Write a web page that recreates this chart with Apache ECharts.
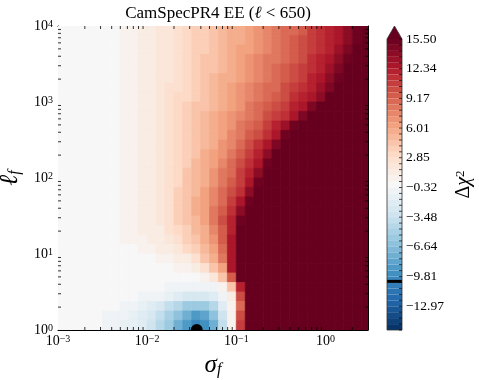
<!DOCTYPE html>
<html>
<head>
<meta charset="utf-8">
<script src="https://cdn.jsdelivr.net/npm/echarts@6/dist/echarts.min.js"></script>
<style>
html, body { margin: 0; padding: 0; background: #fff; }
#chart { width: 479px; height: 380px; }
</style>
</head>
<body>
<div id="chart"></div>
<script>
// cell edges of the grid: sigma_f left to right, ell_f top to bottom
var sigmaEdges = [0.001, 0.00126, 0.00158, 0.002, 0.00251, 0.00316, 0.00398, 0.00501, 0.00631, 0.00794,
    0.01, 0.0126, 0.0158, 0.02, 0.0251, 0.0316, 0.0398, 0.0501, 0.0631, 0.0794,
    0.1, 0.126, 0.158, 0.2, 0.251, 0.316, 0.398, 0.501, 0.631, 0.794,
    1, 1.26, 1.58, 2, 2.51, 3];
var ellEdges = [10000, 7499, 5623, 4217, 3162, 2371, 1778, 1334, 1000, 749.9, 562.3, 421.7, 316.2, 237.1, 177.8, 133.4,
    100, 74.99, 56.23, 42.17, 31.62, 23.71, 17.78, 13.34, 10, 7.499, 5.623, 4.217, 3.162, 2.371, 1.778, 1.334, 1];

// delta chi2, one row per ell band (top row first)
var dchi2 = [
    [0, 0, 0, 0, 0, 0.1, 0.3, 0.55, 0.8, 1.07, 1.33, 1.66, 2.11, 2.58, 3.05, 3.52, 3.99, 4.46, 4.94, 5.41, 5.88, 6.41, 6.96, 7.5, 8.05, 8.6, 9.14, 9.78, 10.46, 11.13, 11.8, 12.54, 13.8, 15.04, 16],
    [0, 0, 0, 0, 0, 0.1, 0.3, 0.55, 0.8, 1.07, 1.33, 1.64, 2.12, 2.59, 3.07, 3.55, 4.02, 4.5, 4.98, 5.46, 5.94, 6.48, 7.04, 7.59, 8.15, 8.71, 9.26, 9.94, 10.62, 11.31, 11.99, 12.91, 14.19, 15.47, 16],
    [0, 0, 0, 0, 0, 0.1, 0.3, 0.55, 0.8, 1.07, 1.33, 1.64, 2.13, 2.62, 3.11, 3.6, 4.09, 4.57, 5.07, 5.56, 6.05, 6.62, 7.18, 7.75, 8.31, 8.88, 9.48, 10.18, 10.88, 11.58, 12.28, 13.45, 14.75, 16, 16],
    [0, 0, 0, 0, 0, 0.1, 0.3, 0.55, 0.8, 1.07, 1.33, 1.65, 2.15, 2.65, 3.15, 3.65, 4.15, 4.65, 5.16, 5.66, 6.18, 6.76, 7.33, 7.91, 8.48, 9.06, 9.72, 10.43, 11.14, 11.85, 12.69, 14.0, 15.32, 16, 16],
    [0, 0, 0, 0, 0, 0.1, 0.3, 0.55, 0.8, 1.07, 1.33, 1.65, 2.16, 2.68, 3.19, 3.7, 4.22, 4.73, 5.25, 5.76, 6.32, 6.91, 7.5, 8.09, 8.68, 9.28, 10.01, 10.74, 11.46, 12.19, 13.37, 14.71, 16, 16, 16],
    [0, 0, 0, 0, 0, 0.1, 0.3, 0.55, 0.8, 1.07, 1.33, 1.66, 2.19, 2.72, 3.26, 3.79, 4.33, 4.86, 5.4, 5.93, 6.52, 7.12, 7.72, 8.31, 8.91, 9.56, 10.3, 11.04, 11.77, 12.6, 13.96, 15.32, 16, 16, 16],
    [0, 0, 0, 0, 0, 0.1, 0.3, 0.55, 0.8, 1.07, 1.33, 1.72, 2.27, 2.82, 3.37, 3.91, 4.46, 5.01, 5.57, 6.13, 6.73, 7.33, 7.93, 8.54, 9.14, 9.85, 10.6, 11.34, 12.08, 13.19, 14.56, 16, 16, 16, 16],
    [0, 0, 0, 0, 0, 0.1, 0.3, 0.55, 0.8, 1.07, 1.33, 1.73, 2.3, 2.88, 3.45, 4.02, 4.59, 5.17, 5.74, 6.34, 6.97, 7.6, 8.22, 8.85, 9.52, 10.3, 11.07, 11.84, 12.8, 14.22, 16, 16, 16, 16, 16],
    [0, 0, 0, 0, 0, 0.1, 0.3, 0.55, 0.8, 1.07, 1.33, 1.74, 2.34, 2.94, 3.54, 4.13, 4.73, 5.33, 5.94, 6.6, 7.27, 7.94, 8.61, 9.28, 10.11, 10.95, 11.78, 12.78, 14.31, 16, 16, 16, 16, 16, 16],
    [0, 0, 0, 0, 0, 0.1, 0.3, 0.55, 0.8, 1.07, 1.33, 1.75, 2.38, 3.0, 3.63, 4.26, 4.88, 5.51, 6.16, 6.89, 7.61, 8.34, 9.06, 9.9, 10.8, 11.7, 12.77, 14.42, 16, 16, 16, 16, 16, 16, 16],
    [0, 0, 0, 0, 0, 0.1, 0.3, 0.55, 0.8, 1.07, 1.33, 1.76, 2.41, 3.05, 3.7, 4.35, 4.99, 5.64, 6.37, 7.19, 8.0, 8.82, 9.72, 10.73, 11.74, 13.07, 14.93, 16, 16, 16, 16, 16, 16, 16, 16],
    [0, 0, 0, 0, 0, 0.1, 0.3, 0.55, 0.8, 1.07, 1.33, 1.77, 2.44, 3.11, 3.77, 4.44, 5.11, 5.78, 6.61, 7.5, 8.4, 9.3, 10.41, 11.53, 12.84, 14.9, 16, 16, 16, 16, 16, 16, 16, 16, 16],
    [0, 0, 0, 0, 0, 0.1, 0.3, 0.55, 0.8, 1.07, 1.33, 1.78, 2.47, 3.16, 3.85, 4.54, 5.23, 5.92, 6.88, 7.87, 8.85, 9.95, 11.16, 12.37, 14.59, 16, 16, 16, 16, 16, 16, 16, 16, 16, 16],
    [0, 0, 0, 0, 0, 0.1, 0.3, 0.55, 0.8, 1.07, 1.33, 1.79, 2.52, 3.25, 3.98, 4.71, 5.43, 6.23, 7.27, 8.3, 9.34, 10.61, 11.89, 13.79, 16, 16, 16, 16, 16, 16, 16, 16, 16, 16, 16],
    [0, 0, 0, 0, 0, 0.1, 0.3, 0.55, 0.8, 1.07, 1.33, 1.81, 2.56, 3.32, 4.07, 4.83, 5.58, 6.49, 7.61, 8.71, 9.93, 11.29, 12.85, 15.36, 16, 16, 16, 16, 16, 16, 16, 16, 16, 16, 16],
    [0, 0, 0, 0, 0, 0.1, 0.3, 0.55, 0.8, 1.07, 1.33, 1.82, 2.6, 3.39, 4.17, 4.96, 5.74, 6.78, 7.96, 9.12, 10.5, 11.93, 14.19, 16, 16, 16, 16, 16, 16, 16, 16, 16, 16, 16, 16],
    [0, 0, 0, 0, 0, 0.1, 0.3, 0.55, 0.8, 1.07, 1.33, 1.83, 2.65, 3.46, 4.28, 5.1, 5.92, 7.08, 8.3, 9.55, 11.04, 12.65, 15.38, 16, 16, 16, 16, 16, 16, 16, 16, 16, 16, 16, 16],
    [0, 0, 0, 0, 0, 0.1, 0.3, 0.55, 0.8, 1.07, 1.33, 1.84, 2.7, 3.55, 4.4, 5.25, 6.15, 7.4, 8.67, 10.07, 11.62, 13.81, 16, 16, 16, 16, 16, 16, 16, 16, 16, 16, 16, 16, 16],
    [0, 0, 0, 0, 0, 0.1, 0.3, 0.55, 0.8, 1.07, 1.33, 1.86, 2.75, 3.64, 4.53, 5.42, 6.46, 7.79, 9.14, 10.74, 12.38, 15.4, 16, 16, 16, 16, 16, 16, 16, 16, 16, 16, 16, 16, 16],
    [0, 0, 0, 0, 0, 0.1, 0.3, 0.55, 0.8, 1.07, 1.33, 1.86, 2.75, 3.64, 4.53, 5.42, 6.52, 8.0, 9.55, 11.39, 13.91, 16, 16, 16, 16, 16, 16, 16, 16, 16, 16, 16, 16, 16, 16],
    [0, 0, 0, 0, 0, 0.1, 0.3, 0.55, 0.8, 1.07, 1.33, 1.76, 2.65, 3.54, 4.43, 5.32, 6.4, 8.07, 9.88, 11.96, 15.41, 16, 16, 16, 16, 16, 16, 16, 16, 16, 16, 16, 16, 16, 16],
    [0, 0, 0, 0, 0, 0.1, 0.3, 0.53, 0.76, 0.99, 1.23, 1.46, 2.27, 3.18, 4.09, 5.0, 5.91, 7.74, 9.79, 12.18, 16, 16, 16, 16, 16, 16, 16, 16, 16, 16, 16, 16, 16, 16, 16],
    [0, 0, 0, 0, 0, 0.1, 0.22, 0.39, 0.62, 0.85, 1.08, 1.31, 1.66, 2.61, 3.57, 4.52, 5.47, 7.06, 9.5, 12.4, 16, 16, 16, 16, 16, 16, 16, 16, 16, 16, 16, 16, 16, 16, 16],
    [0, 0, 0, 0, 0, 0, 0, 0.11, 0.25, 0.47, 0.75, 1.04, 1.32, 1.9, 2.96, 4.01, 5.06, 6.31, 9.11, 12.61, 16, 16, 16, 16, 16, 16, 16, 16, 16, 16, 16, 16, 16, 16, 16],
    [0, 0, 0, 0, 0, 0, 0, 0, 0, 0.08, 0.22, 0.42, 0.77, 1.12, 1.47, 2.77, 4.15, 5.53, 8.39, 12.67, 16, 16, 16, 16, 16, 16, 16, 16, 16, 16, 16, 16, 16, 16, 16],
    [0, 0, 0, 0, 0, 0, 0, 0, 0, 0, 0, 0.04, 0.18, 0.34, 0.82, 1.3, 2.54, 4.36, 6.6, 12.67, 16, 16, 16, 16, 16, 16, 16, 16, 16, 16, 16, 16, 16, 16, 16],
    [0, 0, 0, 0, 0, 0, 0, 0, 0, 0, -0.1, -0.1, -0.1, -0.05, 0.12, 0.26, 0.78, 1.82, 4.71, 9.5, 16, 16, 16, 16, 16, 16, 16, 16, 16, 16, 16, 16, 16, 16, 16],
    [0, 0, 0, 0, 0, 0, -0.05, -0.1, -0.15, -0.2, -0.25, -0.3, -0.35, -0.45, -0.55, -0.6, -0.55, -0.35, 0.6, 4.5, 12, 16, 16, 16, 16, 16, 16, 16, 16, 16, 16, 16, 16, 16, 16],
    [0, 0, 0, 0, 0, -0.05, -0.1, -0.15, -0.2, -0.35, -0.55, -0.85, -1.3, -1.8, -2.3, -2.6, -2.6, -2.0, -0.8, 1.5, 10, 16, 16, 16, 16, 16, 16, 16, 16, 16, 16, 16, 16, 16, 16],
    [0, 0, 0, 0, -0.05, -0.15, -0.25, -0.4, -0.7, -1.1, -1.8, -2.6, -3.6, -4.6, -5.5, -6.0, -5.8, -4.6, -2.2, 0.8, 9, 16, 16, 16, 16, 16, 16, 16, 16, 16, 16, 16, 16, 16, 16],
    [0, 0, -0.05, -0.1, -0.2, -0.35, -0.5, -0.8, -1.2, -1.9, -2.8, -4.0, -5.3, -6.6, -7.8, -8.6, -8.3, -6.6, -3.2, 0.5, 10, 16, 16, 16, 16, 16, 16, 16, 16, 16, 16, 16, 16, 16, 16],
    [0, 0, -0.05, -0.15, -0.3, -0.45, -0.7, -1.0, -1.5, -2.2, -3.1, -4.3, -5.8, -7.5, -9.0, -10.2, -9.3, -7.5, -3.5, 0.5, 11, 16, 16, 16, 16, 16, 16, 16, 16, 16, 16, 16, 16, 16, 16]
];

// contour levels and the labelled ones on the colorbar
var levels = [-15.5, -14.87, -14.23, -13.6, -12.97, -12.34, -11.71, -11.07, -10.44, -9.81,
    -9.17, -8.54, -7.91, -7.28, -6.64, -6.01, -5.38, -4.74, -4.11, -3.48,
    -2.85, -2.21, -1.58, -0.95, -0.32, 0.32, 0.95, 1.58, 2.21, 2.85,
    3.48, 4.11, 4.74, 5.38, 6.01, 6.64, 7.28, 7.91, 8.54, 9.17,
    9.81, 10.44, 11.07, 11.71, 12.34, 12.97, 13.6, 14.23, 14.87, 15.5];
var cbarTicks = [-12.97, -9.81, -6.64, -3.48, -0.32, 2.85, 6.01, 9.17, 12.34, 15.5];

var xRange = [0.001, 3];
var yRange = [1, 10000];
var xMinor = [0.002, 0.003, 0.004, 0.005, 0.006, 0.007, 0.008, 0.009,
    0.02, 0.03, 0.04, 0.05, 0.06, 0.07, 0.08, 0.09,
    0.2, 0.3, 0.4, 0.5, 0.6, 0.7, 0.8, 0.9, 2];
var yMinor = [2, 3, 4, 5, 6, 7, 8, 9, 20, 30, 40, 50, 60, 70, 80, 90,
    200, 300, 400, 500, 600, 700, 800, 900, 2000, 3000, 4000, 5000, 6000, 7000, 8000, 9000];

var bestFit = [0.036, 1];
var minChi2 = -10.32;

var serif = 'Liberation Serif';
var rdbu = ['#053061', '#2166ac', '#4393c3', '#92c5de', '#d1e5f0', '#f7f7f7',
    '#fddbc7', '#f4a582', '#d6604d', '#b2182b', '#67001f'];
var rdbuRgb = rdbu.map(function (h) {
    return [parseInt(h.substr(1, 2), 16), parseInt(h.substr(3, 2), 16), parseInt(h.substr(5, 2), 16)];
});

function cmap(t) {
    t = Math.max(0, Math.min(1, t));
    var s = t * (rdbuRgb.length - 1);
    var i = Math.min(Math.floor(s), rdbuRgb.length - 2);
    var f = s - i;
    var a = rdbuRgb[i], b = rdbuRgb[i + 1];
    return 'rgb(' + Math.round(a[0] + (b[0] - a[0]) * f) + ',' +
        Math.round(a[1] + (b[1] - a[1]) * f) + ',' +
        Math.round(a[2] + (b[2] - a[2]) * f) + ')';
}

var vmin = levels[0], vmax = levels[levels.length - 1];
// contourf style: one flat colour per band, over colour above the top level
function levelColor(v) {
    if (v >= vmax) return rdbu[rdbu.length - 1];
    for (var i = 0; i < levels.length - 1; i++) {
        if (v < levels[i + 1]) {
            return cmap(((levels[i] + levels[i + 1]) / 2 - vmin) / (vmax - vmin));
        }
    }
}

function powLabel(v) {
    var e = Math.log10(v);
    var r = Math.round(e);
    if (Math.abs(e - r) > 1e-6) return '';
    return '{b|10}{p|' + (r < 0 ? '\u2212' + (-r) : r) + '}';
}
var powRich = {
    b: { fontFamily: serif, fontSize: 14, color: '#000' },
    p: { fontFamily: serif, fontSize: 10, color: '#000', verticalAlign: 'top' }
};

var cells = [];
dchi2.forEach(function (row, i) {
    row.forEach(function (v, j) {
        cells.push([sigmaEdges[j], sigmaEdges[j + 1], ellEdges[i], ellEdges[i + 1], v]);
    });
});

var bands = [];
for (var k = 0; k < levels.length - 1; k++) {
    bands.push([0, 1, levels[k], levels[k + 1]]);
}

var minorData = xMinor.map(function (v) { return [v, yRange[0], 0]; })
    .concat(yMinor.map(function (v) { return [xRange[0], v, 1]; }));

var tickLine = { stroke: '#000', lineWidth: 0.8 };

var chart = echarts.init(document.getElementById('chart'));

var option = {
    backgroundColor: '#fff',
    animation: false,
    title: {
        text: 'CamSpecPR4 EE ({l|\u2113} < 650)',
        left: 213,
        top: 0,
        textAlign: 'center',
        textStyle: {
            fontFamily: serif, fontSize: 17, fontWeight: 'normal', color: '#000',
            rich: { l: { fontFamily: serif, fontSize: 17, fontStyle: 'italic', color: '#000' } }
        }
    },
    grid: [
        { left: 58, top: 26, width: 310, height: 304, outerBoundsMode: 'none', containLabel: false },
        { left: 387, top: 39, width: 15, height: 291, outerBoundsMode: 'none', containLabel: false }
    ],
    xAxis: [
        {
            gridIndex: 0, type: 'log', logBase: 10, min: xRange[0], max: xRange[1], position: 'bottom',
            name: '{i|\u03c3}{s|f}', nameLocation: 'middle', nameGap: 17,
            nameTextStyle: {
                rich: {
                    i: { fontFamily: serif, fontStyle: 'italic', fontSize: 25, color: '#000' },
                    s: { fontFamily: serif, fontStyle: 'italic', fontSize: 16, color: '#000', verticalAlign: 'bottom' }
                }
            },
            axisLine: { lineStyle: { color: '#000', width: 1 } },
            axisTick: { inside: true, length: 5, lineStyle: { color: '#000', width: 0.8 } },
            axisLabel: { formatter: powLabel, rich: powRich, margin: 4 },
            splitLine: { show: false }
        },
        {
            gridIndex: 0, type: 'log', logBase: 10, min: xRange[0], max: xRange[1], position: 'top',
            axisLine: { lineStyle: { color: '#000', width: 1 } },
            axisTick: { inside: true, length: 5, lineStyle: { color: '#000', width: 0.8 } },
            axisLabel: { show: false },
            splitLine: { show: false }
        },
        { gridIndex: 1, type: 'value', min: 0, max: 1, show: false }
    ],
    yAxis: [
        {
            gridIndex: 0, type: 'log', logBase: 10, min: yRange[0], max: yRange[1], position: 'left',
            name: '{i|\u2113}{s|f}', nameLocation: 'middle', nameGap: 27, nameRotate: 90,
            nameTextStyle: {
                rich: {
                    i: { fontFamily: serif, fontStyle: 'italic', fontSize: 26, color: '#000' },
                    s: { fontFamily: serif, fontStyle: 'italic', fontSize: 16, color: '#000', verticalAlign: 'bottom' }
                }
            },
            axisLine: { lineStyle: { color: '#000', width: 1 } },
            axisTick: { inside: true, length: 5, lineStyle: { color: '#000', width: 0.8 } },
            axisLabel: { formatter: powLabel, rich: powRich, margin: 5 },
            splitLine: { show: false }
        },
        {
            gridIndex: 0, type: 'log', logBase: 10, min: yRange[0], max: yRange[1], position: 'right',
            axisLine: { lineStyle: { color: '#000', width: 1 } },
            axisTick: { inside: true, length: 5, lineStyle: { color: '#000', width: 0.8 } },
            axisLabel: { show: false },
            splitLine: { show: false }
        },
        {
            gridIndex: 1, type: 'value', min: vmin, max: vmax, position: 'right',
            name: '{a|\u0394}{c|\u03c7}{p|2}', nameLocation: 'middle', nameGap: 52, nameRotate: 90,
            nameTextStyle: {
                rich: {
                    a: { fontFamily: serif, fontSize: 20, color: '#000' },
                    c: { fontFamily: serif, fontStyle: 'italic', fontSize: 20, color: '#000' },
                    p: { fontFamily: serif, fontSize: 13, color: '#000', verticalAlign: 'top' }
                }
            },
            axisLine: { show: false },
            axisTick: { show: false },
            axisLabel: {
                customValues: cbarTicks, margin: 4,
                fontFamily: serif, fontSize: 13.5, color: '#000',
                formatter: function (v) { return v.toFixed(2).replace('-', '\u2212'); }
            },
            splitLine: { show: false }
        }
    ],
    series: [
        {
            type: 'custom',
            name: 'dchi2',
            xAxisIndex: 0, yAxisIndex: 0,
            clip: true,
            silent: true,
            z: 1,
            encode: { x: [0, 1], y: [2, 3] },
            data: cells,
            renderItem: function (params, api) {
                var a = api.coord([api.value(0), api.value(2)]);
                var b = api.coord([api.value(1), api.value(3)]);
                var c = levelColor(api.value(4));
                return {
                    type: 'rect',
                    shape: { x: Math.min(a[0], b[0]), y: Math.min(a[1], b[1]), width: Math.abs(b[0] - a[0]), height: Math.abs(b[1] - a[1]) },
                    style: { fill: c, stroke: c, lineWidth: 0.8 }
                };
            }
        },
        {
            type: 'custom',
            name: 'minor ticks',
            xAxisIndex: 0, yAxisIndex: 0,
            silent: true,
            z: 5,
            encode: { x: 0, y: 1 },
            data: minorData,
            renderItem: function (params, api) {
                var len = 3;
                var lo, hi;
                if (api.value(2) === 0) {
                    lo = api.coord([api.value(0), yRange[0]]);
                    hi = api.coord([api.value(0), yRange[1]]);
                    return {
                        type: 'group', children: [
                            { type: 'line', shape: { x1: lo[0], y1: lo[1], x2: lo[0], y2: lo[1] - len }, style: tickLine },
                            { type: 'line', shape: { x1: hi[0], y1: hi[1], x2: hi[0], y2: hi[1] + len }, style: tickLine }
                        ]
                    };
                }
                lo = api.coord([xRange[0], api.value(1)]);
                hi = api.coord([xRange[1], api.value(1)]);
                return {
                    type: 'group', children: [
                        { type: 'line', shape: { x1: lo[0], y1: lo[1], x2: lo[0] + len, y2: lo[1] }, style: tickLine },
                        { type: 'line', shape: { x1: hi[0], y1: hi[1], x2: hi[0] - len, y2: hi[1] }, style: tickLine }
                    ]
                };
            }
        },
        {
            type: 'custom',
            name: 'best fit',
            xAxisIndex: 0, yAxisIndex: 0,
            clip: true,
            silent: true,
            z: 6,
            encode: { x: 0, y: 1 },
            data: [bestFit],
            renderItem: function (params, api) {
                var p = api.coord([api.value(0), api.value(1)]);
                return { type: 'circle', shape: { cx: p[0], cy: p[1], r: 6 }, style: { fill: '#000' } };
            }
        },
        {
            type: 'custom',
            name: 'colorbar',
            xAxisIndex: 2, yAxisIndex: 2,
            silent: true,
            z: 1,
            encode: { x: [0, 1], y: [2, 3] },
            data: bands,
            renderItem: function (params, api) {
                var a = api.coord([api.value(0), api.value(2)]);
                var b = api.coord([api.value(1), api.value(3)]);
                var c = levelColor((api.value(2) + api.value(3)) / 2);
                return {
                    type: 'rect',
                    shape: { x: Math.min(a[0], b[0]), y: Math.min(a[1], b[1]), width: Math.abs(b[0] - a[0]), height: Math.abs(b[1] - a[1]) },
                    style: { fill: c }
                };
            }
        },
        {
            type: 'custom',
            name: 'colorbar frame',
            xAxisIndex: 2, yAxisIndex: 2,
            silent: true,
            z: 3,
            encode: { x: [0, 1], y: [2, 3] },
            data: [[0, 1, vmax, minChi2]],
            renderItem: function (params, api) {
                var bl = api.coord([0, vmin]), br = api.coord([1, vmin]);
                var tl = api.coord([0, api.value(2)]), tr = api.coord([1, api.value(2)]);
                var apex = [(tl[0] + tr[0]) / 2, tl[1] - 13];
                var m0 = api.coord([0, api.value(3)]), m1 = api.coord([1, api.value(3)]);
                var right = Math.max(bl[0], br[0]);
                var kids = [
                    { type: 'polygon', shape: { points: [tl, apex, tr] }, style: { fill: rdbu[rdbu.length - 1] } },
                    { type: 'line', shape: { x1: m0[0], y1: m0[1], x2: m1[0], y2: m1[1] }, style: { stroke: '#000', lineWidth: 3 } },
                    { type: 'polygon', shape: { points: [bl, tl, apex, tr, br] }, style: { fill: 'none', stroke: '#333', lineWidth: 0.8 } }
                ];
                // one small inward tick per contour level on the right edge of the bar
                levels.forEach(function (lv) {
                    var y = api.coord([0, lv])[1];
                    kids.push({ type: 'line', shape: { x1: right, y1: y, x2: right - 3, y2: y }, style: { stroke: '#000', lineWidth: 0.7 } });
                });
                return { type: 'group', children: kids };
            }
        }
    ]
};

chart.setOption(option);
</script>
</body>
</html>
